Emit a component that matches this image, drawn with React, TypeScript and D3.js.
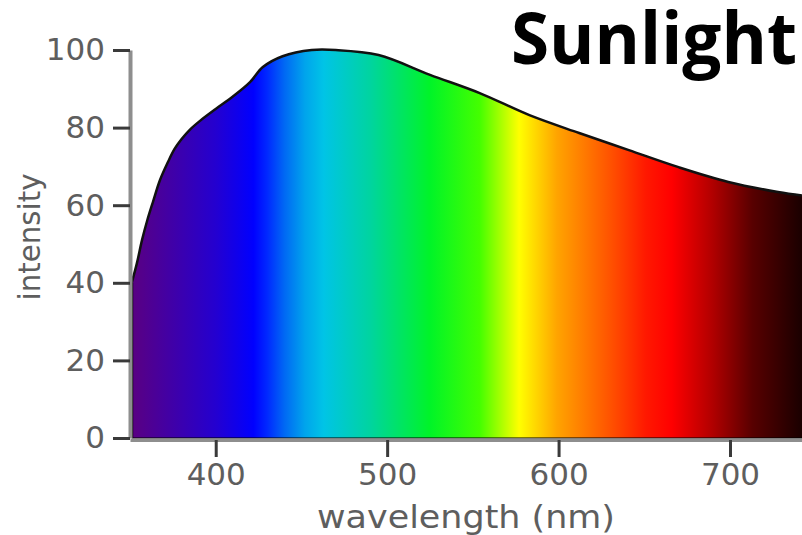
import React, { useRef, useEffect } from 'react';
import * as d3 from 'd3';

// spectrum curve
const wavelengths = [351, 354, 357, 360, 363.5, 367.5, 372, 376, 380, 385, 391, 400, 410, 420, 427.5, 439, 456, 470, 495, 525, 554, 583, 612, 641, 670, 699, 728, 742];
const intensity = [40, 45, 51, 56, 61, 66.5, 71, 74.5, 77, 79.5, 81.8, 84.8, 88, 91.7, 95.6, 98.4, 100, 100, 98.7, 93.6, 88.9, 83.2, 78.6, 74.2, 69.8, 66, 63.4, 62.5];

// colour stops of the rainbow fill
const stopWavelengths = [351, 380, 400, 422, 430, 440, 452, 463, 490, 525, 554, 577, 599, 631, 651, 666, 690, 713, 742];
const stopColors = ['#5a0082', '#3a00b0', '#2400d0', '#0000ff', '#0028ff', '#0068f4', '#00a4ec', '#00c4e6', '#00d4a0', '#00f428', '#44ff00', '#ffff00', '#ffa400', '#ff5000', '#ff1800', '#ff0000', '#b00000', '#580000', '#1a0000'];

const yTicks = [0, 20, 40, 60, 80, 100];
const xTicks = [400, 500, 600, 700];

const width = 802;
const height = 535;

const SunlightChart = () => {
  const svgRef = useRef(null);

  useEffect(() => {
    const svg = d3.select(svgRef.current);
    svg.selectAll('*').remove();

    const xScale = d3.scaleLinear().domain([350, 742]).range([130, 802]);
    const yScale = d3.scaleLinear().domain([0, 100]).range([438, 50]);

    const data = wavelengths.map((w, i) => ({ w, v: intensity[i] }));

    // gradient
    const grad = svg
      .append('defs')
      .append('linearGradient')
      .attr('id', 'spectrum')
      .attr('gradientUnits', 'userSpaceOnUse')
      .attr('x1', xScale(stopWavelengths[0]))
      .attr('x2', xScale(stopWavelengths[stopWavelengths.length - 1]))
      .attr('y1', 0)
      .attr('y2', 0);
    const x0 = stopWavelengths[0];
    const span = stopWavelengths[stopWavelengths.length - 1] - x0;
    grad
      .selectAll('stop')
      .data(stopWavelengths)
      .enter()
      .append('stop')
      .attr('offset', (d) => (d - x0) / span)
      .attr('stop-color', (d, i) => stopColors[i]);

    const area = d3
      .area<any>()
      .x((d) => xScale(d.w))
      .y0(yScale(0))
      .y1((d) => yScale(d.v))
      .curve(d3.curveCatmullRom.alpha(0.5));

    svg.append('path').datum(data).attr('d', area).attr('fill', 'url(#spectrum)');

    const line = d3
      .line<any>()
      .x((d) => xScale(d.w))
      .y((d) => yScale(d.v))
      .curve(d3.curveCatmullRom.alpha(0.5));

    svg
      .append('path')
      .datum(data)
      .attr('d', line)
      .attr('fill', 'none')
      .attr('stroke', '#111')
      .attr('stroke-width', 2.5);

    // left edge of the fill
    svg
      .append('line')
      .attr('x1', xScale(wavelengths[0]))
      .attr('x2', xScale(wavelengths[0]))
      .attr('y1', yScale(intensity[0]))
      .attr('y2', yScale(0))
      .attr('stroke', '#000')
      .attr('stroke-width', 3);

    // bottom edge
    svg
      .append('line')
      .attr('x1', xScale(wavelengths[0]))
      .attr('x2', 802)
      .attr('y1', yScale(0))
      .attr('y2', yScale(0))
      .attr('stroke', '#000')
      .attr('stroke-opacity', 0.5)
      .attr('stroke-width', 2);

    // y axis
    const yAxis = d3.axisLeft(yScale).tickValues(yTicks).tickSize(17).tickSizeOuter(0).tickPadding(8);
    const gy = svg.append('g').attr('transform', 'translate(130,0)').call(yAxis);
    gy.select('.domain').attr('stroke', '#8e8e8e').attr('stroke-width', 4);
    gy.selectAll('.tick line').attr('stroke', '#3a3a3a').attr('stroke-width', 3);
    gy.selectAll('.tick text')
      .attr('fill', '#5e5e5e')
      .attr('font-family', 'DejaVu Sans')
      .attr('font-size', 31);

    // x axis
    const xAxis = d3.axisBottom(xScale).tickValues(xTicks).tickSize(17).tickSizeOuter(0).tickPadding(6).tickFormat(d3.format('d'));
    const gx = svg.append('g').attr('transform', `translate(0,${yScale(0) + 2})`).call(xAxis);
    gx.select('.domain').attr('stroke', '#8e8e8e').attr('stroke-width', 3);
    gx.selectAll('.tick line').attr('stroke', '#3a3a3a').attr('stroke-width', 3);
    gx.selectAll('.tick text')
      .attr('fill', '#5e5e5e')
      .attr('font-family', 'DejaVu Sans')
      .attr('font-size', 31);

    svg
      .append('text')
      .attr('x', 466)
      .attr('y', 528)
      .attr('text-anchor', 'middle')
      .attr('font-family', 'DejaVu Sans')
      .attr('font-size', 32)
      .attr('fill', '#5e5e5e')
      .attr('textLength', 298)
      .attr('lengthAdjust', 'spacingAndGlyphs')
      .text('wavelength (nm)');

    svg
      .append('text')
      .attr('transform', 'translate(40,237) rotate(-90)')
      .attr('text-anchor', 'middle')
      .attr('font-family', 'DejaVu Sans')
      .attr('font-size', 30)
      .attr('fill', '#5e5e5e')
      .attr('textLength', 127)
      .attr('lengthAdjust', 'spacingAndGlyphs')
      .text('intensity');

    svg
      .append('text')
      .attr('x', 511)
      .attr('y', 64)
      .attr('font-family', 'Open Sans')
      .attr('font-weight', 'bold')
      .attr('font-size', 72)
      .attr('fill', '#000')
      .attr('textLength', 286)
      .attr('lengthAdjust', 'spacingAndGlyphs')
      .text('Sunlight');
  }, []);

  return (
    <div style={{ position: 'absolute', left: 0, top: 0 }}>
      <svg ref={svgRef} width={width} height={height} style={{ display: 'block', background: '#fff' }} />
    </div>
  );
};

export default function App() {
  return <SunlightChart />;
}
